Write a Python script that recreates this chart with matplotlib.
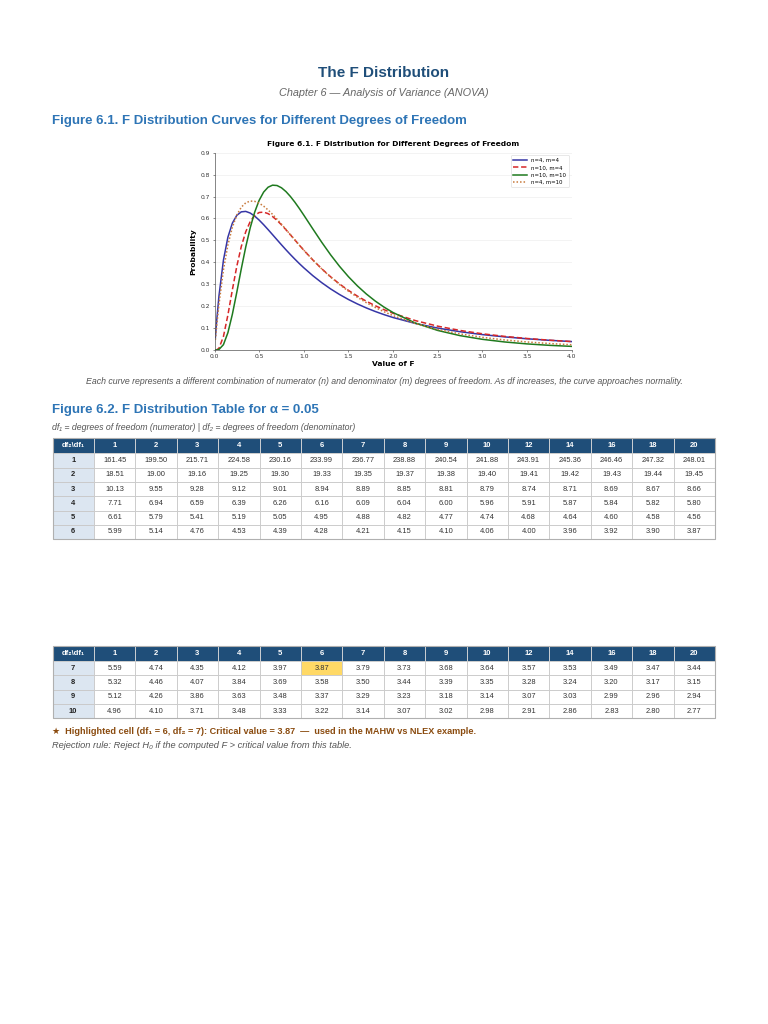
import matplotlib
matplotlib.use("Agg")
import matplotlib.pyplot as plt
from matplotlib.patches import Rectangle

# ---- curve data ----
f_values = [0.01, 0.025, 0.05, 0.1, 0.15, 0.2, 0.25, 0.3, 0.35, 0.4, 0.45, 0.5, 0.55,
            0.6, 0.65, 0.7, 0.75, 0.8, 0.85, 0.9, 0.95, 1.0, 1.1, 1.2, 1.3, 1.4,
            1.5, 1.6, 1.7, 1.8, 1.9, 2.0, 2.25, 2.5, 2.75, 3.0, 3.25, 3.5, 3.75, 4.0]
pdf_4_4 = [0.0577, 0.1359, 0.2468, 0.4098, 0.5146, 0.5787, 0.6144, 0.6302, 0.6322,
           0.6247, 0.6108, 0.5926, 0.5717, 0.5493, 0.5262, 0.5029, 0.4798, 0.4572,
           0.4354, 0.4144, 0.3942, 0.3750, 0.3394, 0.3074, 0.2787, 0.2532, 0.2304,
           0.2101, 0.1919, 0.1757, 0.1612, 0.1481, 0.1210, 0.1000, 0.0834, 0.0703,
           0.0598, 0.0512, 0.0442, 0.0384]
pdf_10_4 = [0.0000, 0.0007, 0.0080, 0.0614, 0.1596, 0.2743, 0.3825, 0.4721, 0.5396,
            0.5859, 0.6140, 0.6272, 0.6290, 0.6221, 0.6089, 0.5914, 0.5710, 0.5487,
            0.5255, 0.5019, 0.4784, 0.4553, 0.4113, 0.3708, 0.3341, 0.3012, 0.2719,
            0.2458, 0.2226, 0.2020, 0.1837, 0.1674, 0.1340, 0.1087, 0.0892, 0.0740,
            0.0620, 0.0525, 0.0448, 0.0385]
pdf_10_10 = [0.0000, 0.0002, 0.0024, 0.0243, 0.0788, 0.1628, 0.2642, 0.3702, 0.4702,
             0.5576, 0.6288, 0.6828, 0.7202, 0.7426, 0.7519, 0.7503, 0.7400, 0.7227,
             0.7003, 0.6742, 0.6455, 0.6152, 0.5530, 0.4919, 0.4343, 0.3817, 0.3344,
             0.2925, 0.2556, 0.2233, 0.1952, 0.1707, 0.1228, 0.0892, 0.0655, 0.0487,
             0.0366, 0.0278, 0.0213, 0.0165]
pdf_4_10 = [0.0467, 0.1119, 0.2089, 0.3648, 0.4788, 0.5602, 0.6158, 0.6514, 0.6714,
            0.6794, 0.6781, 0.6698, 0.6563, 0.6389, 0.6188, 0.5969, 0.5737, 0.5499,
            0.5259, 0.5020, 0.4784, 0.4553, 0.4112, 0.3703, 0.3329, 0.2989, 0.2682,
            0.2407, 0.2160, 0.1940, 0.1743, 0.1568, 0.1208, 0.0938, 0.0733, 0.0577,
            0.0458, 0.0366, 0.0295, 0.0239]
curve_labels = ["n=4, m=4", "n=10, m=4", "n=10, m=10", "n=4, m=10"]

# ---- table data ----
df1_cols = ["1", "2", "3", "4", "5", "6", "7", "8", "9", "10", "12", "14", "16", "18", "20"]
df2_top = ["1", "2", "3", "4", "5", "6"]
df2_bottom = ["7", "8", "9", "10"]
crit = {
    "1": [161.45, 199.50, 215.71, 224.58, 230.16, 233.99, 236.77, 238.88, 240.54, 241.88, 243.91, 245.36, 246.46, 247.32, 248.01],
    "2": [18.51, 19.00, 19.16, 19.25, 19.30, 19.33, 19.35, 19.37, 19.38, 19.40, 19.41, 19.42, 19.43, 19.44, 19.45],
    "3": [10.13, 9.55, 9.28, 9.12, 9.01, 8.94, 8.89, 8.85, 8.81, 8.79, 8.74, 8.71, 8.69, 8.67, 8.66],
    "4": [7.71, 6.94, 6.59, 6.39, 6.26, 6.16, 6.09, 6.04, 6.00, 5.96, 5.91, 5.87, 5.84, 5.82, 5.80],
    "5": [6.61, 5.79, 5.41, 5.19, 5.05, 4.95, 4.88, 4.82, 4.77, 4.74, 4.68, 4.64, 4.60, 4.58, 4.56],
    "6": [5.99, 5.14, 4.76, 4.53, 4.39, 4.28, 4.21, 4.15, 4.10, 4.06, 4.00, 3.96, 3.92, 3.90, 3.87],
    "7": [5.59, 4.74, 4.35, 4.12, 3.97, 3.87, 3.79, 3.73, 3.68, 3.64, 3.57, 3.53, 3.49, 3.47, 3.44],
    "8": [5.32, 4.46, 4.07, 3.84, 3.69, 3.58, 3.50, 3.44, 3.39, 3.35, 3.28, 3.24, 3.20, 3.17, 3.15],
    "9": [5.12, 4.26, 3.86, 3.63, 3.48, 3.37, 3.29, 3.23, 3.18, 3.14, 3.07, 3.03, 2.99, 2.96, 2.94],
    "10": [4.96, 4.10, 3.71, 3.48, 3.33, 3.22, 3.14, 3.07, 3.02, 2.98, 2.91, 2.86, 2.83, 2.80, 2.77],
}
highlight = ("7", "6")  # (df2, df1)

PAGE = ["Liberation Sans", "DejaVu Sans"]
DARK_BLUE = "#1f4e79"
MID_BLUE = "#2e75b6"

fig = plt.figure(figsize=(7.68, 10.24), dpi=100)
fig.patch.set_facecolor("white")

# page overlay in pixel coordinates
page = fig.add_axes([0, 0, 1, 1])
page.set_xlim(0, 768)
page.set_ylim(1024, 0)
page.axis("off")

page.text(384, 73, "The F Distribution", ha="center", va="center", fontsize=11,
          fontweight="bold", color=DARK_BLUE, family=PAGE)
page.text(384, 93, "Chapter 6 \u2014 Analysis of Variance (ANOVA)", ha="center", va="center",
          fontsize=7.8, style="italic", color="#666666", family=PAGE)
page.text(52, 121, "Figure 6.1. F Distribution Curves for Different Degrees of Freedom",
          ha="left", va="center", fontsize=9.5, fontweight="bold", color=MID_BLUE, family=PAGE)
page.text(384, 382, "Each curve represents a different combination of numerator (n) and denominator (m) "
          "degrees of freedom. As df increases, the curve approaches normality.",
          ha="center", va="center", fontsize=6.3, style="italic", color="#555555", family=PAGE)
page.text(52, 410, "Figure 6.2. F Distribution Table for \u03b1 = 0.05", ha="left", va="center",
          fontsize=9.5, fontweight="bold", color=MID_BLUE, family=PAGE)
page.text(52, 427, "df\u2081 = degrees of freedom (numerator) | df\u2082 = degrees of freedom (denominator)",
          ha="left", va="center", fontsize=6.35, style="italic", color="#555555", family=PAGE)


def draw_table(top, rows):
    left = 52.5
    cw = (715 - 52.5) / 16
    hh = 15.0
    rh = 14.3
    # header
    for j in range(16):
        x = left + j * cw
        page.add_patch(Rectangle((x, top), cw, hh, facecolor=DARK_BLUE,
                                 edgecolor="#d9d9d9", lw=0.6))
        lab = "df\u2082\\df\u2081" if j == 0 else df1_cols[j - 1]
        page.text(x + cw / 2, top + hh / 2, lab, ha="center", va="center", color="white",
                  fontsize=5.5, fontweight="bold", family=PAGE)
    for i, r in enumerate(rows):
        y = top + hh + i * rh
        page.add_patch(Rectangle((left, y), cw, rh, facecolor="#dce6f1",
                                 edgecolor="#c8c8c8", lw=0.6))
        page.text(left + cw / 2, y + rh / 2, r, ha="center", va="center", color="#222222",
                  fontsize=5.4, fontweight="bold", family=PAGE)
        for j, v in enumerate(crit[r]):
            x = left + (j + 1) * cw
            fc = "#ffd966" if (r, df1_cols[j]) == highlight else "white"
            page.add_patch(Rectangle((x, y), cw, rh, facecolor=fc,
                                     edgecolor="#c8c8c8", lw=0.6))
            page.text(x + cw / 2, y + rh / 2, f"{v:.2f}", ha="center", va="center",
                      color="#333333", fontsize=5.4, family=PAGE)
    bottom = top + hh + len(rows) * rh
    page.add_patch(Rectangle((left, top), 16 * cw, bottom - top, fill=False,
                             edgecolor="#b0b0b0", lw=0.8))


draw_table(438.3, df2_top)
draw_table(646.0, df2_bottom)

page.text(52, 731, "\u2605  Highlighted cell (df\u2081 = 6, df\u2082 = 7): Critical value = 3.87  \u2014  "
          "used in the MAHW vs NLEX example.", ha="left", va="center", fontsize=6.6,
          fontweight="bold", color="#8a4b0f", family=PAGE)
page.text(52, 745, "Rejection rule: Reject H\u2080 if the computed F > critical value from this table.",
          ha="left", va="center", fontsize=6.65, style="italic", color="#555555", family=PAGE)

# ---- the F distribution chart ----
ax = fig.add_axes([214.5 / 768, 1 - 350 / 1024, 357.2 / 768, 197.3 / 1024])
ax.plot(f_values, pdf_4_4, color="#3636a6", lw=1.1, label=curve_labels[0])
ax.plot(f_values, pdf_10_4, color="#d62728", lw=1.1, ls=(0, (3.5, 1.8)), label=curve_labels[1])
ax.plot(f_values, pdf_10_10, color="#1f7a1f", lw=1.1, label=curve_labels[2])
ax.plot(f_values, pdf_4_10, color="#c87a3c", lw=1.1, ls=(0, (1, 1.3)), label=curve_labels[3])
ax.set_xlim(0, 4)
ax.set_ylim(0, 0.9)
ax.set_xticks([0, 0.5, 1.0, 1.5, 2.0, 2.5, 3.0, 3.5, 4.0])
ax.set_yticks([0, 0.1, 0.2, 0.3, 0.4, 0.5, 0.6, 0.7, 0.8, 0.9])
ax.xaxis.set_major_formatter(matplotlib.ticker.FormatStrFormatter("%.1f"))
ax.yaxis.set_major_formatter(matplotlib.ticker.FormatStrFormatter("%.1f"))
ax.tick_params(labelsize=4.3, length=1.5, width=0.4, pad=1.5, colors="#333333")
ax.grid(axis="y", color="#eeeeee", lw=0.5)
ax.set_axisbelow(True)
for s in ["top", "right"]:
    ax.spines[s].set_visible(False)
for s in ["left", "bottom"]:
    ax.spines[s].set_linewidth(0.5)
    ax.spines[s].set_color("#555555")
ax.set_title("Figure 6.1. F Distribution for Different Degrees of Freedom", fontsize=5.4,
             fontweight="bold", pad=4.5)
ax.set_xlabel("Value of F", fontsize=5.4, fontweight="bold", labelpad=1)
ax.set_ylabel("Probability", fontsize=5.4, fontweight="bold", labelpad=3)
leg = ax.legend(loc="upper right", fontsize=3.9, handlelength=2.5, frameon=True,
                borderpad=0.5, labelspacing=0.4, fancybox=True)
leg.get_frame().set_linewidth(0.4)

fig.savefig("out.png", dpi=100)
